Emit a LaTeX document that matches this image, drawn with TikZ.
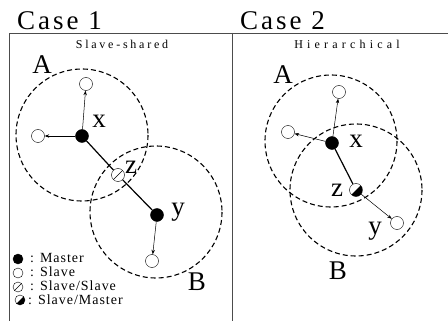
\documentclass[tikz,border=0pt]{standalone}
\usepackage{fontspec}
\setmainfont{Liberation Serif}
\usetikzlibrary{arrows.meta}

\begin{document}
\begin{tikzpicture}[x=1pt,y=-1pt,
  big/.style={font=\fontsize{27}{27}\selectfont,inner sep=0pt},
  title/.style={font=\fontsize{12}{12}\selectfont\addfontfeature{LetterSpace=23},inner sep=0pt},
  key/.style={font=\fontsize{14}{14}\selectfont\addfontfeature{LetterSpace=7},anchor=west,inner sep=0pt},
  master/.style={circle,draw,fill,inner sep=0pt,minimum size=13pt},
  slave/.style={circle,draw,fill=white,inner sep=0pt,minimum size=13pt},
  slsl/.style={slave,path picture={\draw (path picture bounding box.north east)--(path picture bounding box.south west);}},
  slms/.style={slave,path picture={\fill[black] (path picture bounding box.north east)--(path picture bounding box.south west)--(path picture bounding box.south east)--cycle;}},
  tiny/.style={minimum size=10pt},
  zone/.style={draw,dash pattern=on 5pt off 3pt,line width=1.1pt},
  frame/.style={draw=black!70,line width=0.9pt},
  ar/.style={-{Stealth[length=1.6mm,width=1.2mm]},line width=0.5pt},
  link/.style={line width=1.2pt}]
\useasboundingbox (0,0) rectangle (448,321);
\draw[frame] (9,321) -- (9,33) -- (448,33);
\draw[frame] (232,33) -- (232,321);

% case 1
\node[big,anchor=base west] (c1) at (17,30) {\addfontfeature{LetterSpace=11}Case 1};
\node[title] (t1) at (122,44) {Slave-shared};
\coordinate (ca1) at (82,135);
\coordinate (cb1) at (156,212);
\draw[zone] (ca1) circle[radius=66];
\draw[zone] (cb1) circle[radius=66];
\node[master] (x1) at (82,136) {};
\node[slave] (p1) at (86,84) {};
\node[slave] (q1) at (38,136) {};
\node[slsl] (z1) at (118,175) {};
\node[master] (y1) at (157,215) {};
\node[slave] (r1) at (152,261) {};
\draw[ar] (x1) -- (p1); \draw[ar] (x1) -- (q1); \draw[ar] (y1) -- (r1);
\draw[link] (x1) -- (z1); \draw[link] (z1) -- (y1);
\node[big] (la1) at (42,65) {A};
\node[big] (lx1) at (99,121) {x};
\node[big] (lz1) at (131,167) {z};
\node[big] (ly1) at (178,212) {y};
\node[big] (lb1) at (197,282) {B};

% legend
\node[master,tiny] (k1) at (18,259) {};
\node[slave,tiny] (k2) at (18,273) {};
\node[slsl,tiny] (k3) at (18,287) {};
\node[slms,tiny] (k4) at (20,300) {};
\node[key] (m1) at (30,258) {: Master};
\node[key] (m2) at (30,272) {: Slave};
\node[key] (m3) at (30,286) {: Slave/Slave};
\node[key] (m4) at (28,300) {: Slave/Master};

% case 2
\node[big,anchor=base west] (c2) at (240,30) {\addfontfeature{LetterSpace=11}Case 2};
\node[title] (t2) at (347,44) {\addfontfeature{LetterSpace=35}Hierarchical};
\coordinate (ca2) at (331,141);
\coordinate (cb2) at (356,190);
\draw[zone] (ca2) circle[radius=66];
\draw[zone] (cb2) circle[radius=66];
\node[master] (x2) at (332,143) {};
\node[slave] (p2) at (339,92) {};
\node[slave] (q2) at (288,132) {};
\node[slms] (z2) at (356,190) {};
\node[slave] (r2) at (397,223) {};
\draw[ar] (x2) -- (p2); \draw[ar] (x2) -- (q2); \draw[ar] (z2) -- (r2);
\draw[link] (x2) -- (z2);
\node[big] (la2) at (283,75) {A};
\node[big] (lx2) at (356,141) {x};
\node[big] (lz2) at (337,190) {z};
\node[big] (ly2) at (375,231) {y};
\node[big] (lb2) at (338,271) {B};
\end{tikzpicture}
\end{document}
